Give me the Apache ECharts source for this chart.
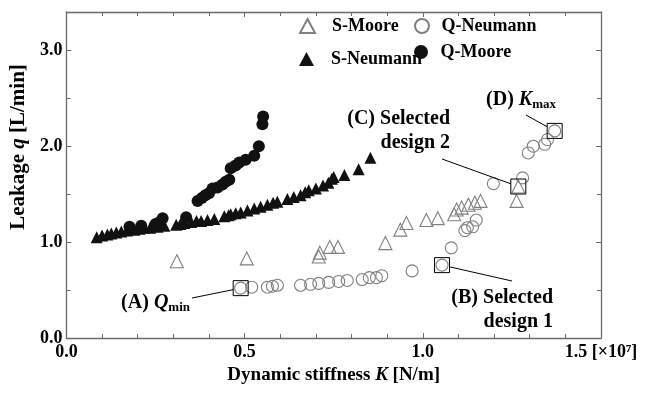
<!DOCTYPE html>
<html><head><meta charset="utf-8">
<script src="https://cdn.jsdelivr.net/npm/echarts@6/dist/echarts.min.js"></script>
<style>html,body{margin:0;padding:0;background:#fff}#c{width:655px;height:393px}</style>
</head><body><div id="c"></div>
<script>
// ---- data (K in 1e7 N/m, q in L/min) ----
const xTickLabels = ['0.0', '0.5', '1.0', '1.5 [×10⁷]'];
const yTickLabels = ['0.0', '1.0', '2.0', '3.0'];
const seriesNames = ['S-Moore', 'S-Neumann', 'Q-Neumann', 'Q-Moore'];

const sMoore = [[0.31,0.80],[0.506,0.83],[0.708,0.85],[0.711,0.89],[0.739,0.95],[0.762,0.95],[0.895,0.99],[0.937,1.13],[0.954,1.20],[1.01,1.23],[1.042,1.25],[1.088,1.29],[1.095,1.34],[1.109,1.36],[1.128,1.39],[1.146,1.41],[1.162,1.43],[1.263,1.43],[1.268,1.58]];
const sNeumann = [[0.085,1.05],[0.10,1.07],[0.115,1.08],[0.126,1.09],[0.14,1.10],[0.154,1.11],[0.17,1.12],[0.191,1.13],[0.205,1.14],[0.219,1.15],[0.235,1.15],[0.256,1.16],[0.275,1.17],[0.308,1.18],[0.32,1.19],[0.331,1.20],[0.35,1.21],[0.365,1.22],[0.378,1.22],[0.396,1.23],[0.415,1.24],[0.443,1.27],[0.455,1.28],[0.461,1.29],[0.475,1.30],[0.489,1.31],[0.508,1.33],[0.527,1.35],[0.545,1.37],[0.564,1.39],[0.58,1.41],[0.592,1.42],[0.62,1.45],[0.638,1.47],[0.657,1.49],[0.67,1.52],[0.68,1.54],[0.70,1.56],[0.72,1.59],[0.735,1.62],[0.745,1.66],[0.75,1.68],[0.78,1.70],[0.82,1.76],[0.853,1.88]];
const qNeumann = [[0.489,0.52],[0.52,0.53],[0.564,0.53],[0.578,0.54],[0.592,0.55],[0.657,0.55],[0.685,0.56],[0.708,0.57],[0.736,0.58],[0.764,0.59],[0.788,0.60],[0.83,0.61],[0.85,0.63],[0.87,0.63],[0.885,0.65],[0.97,0.70],[1.054,0.76],[1.08,0.94],[1.118,1.12],[1.125,1.15],[1.14,1.16],[1.15,1.23],[1.198,1.61],[1.28,1.67],[1.296,1.93],[1.31,2.00],[1.342,2.02],[1.35,2.07],[1.37,2.16]];
const qMoore = [[0.177,1.16],[0.21,1.17],[0.25,1.19],[0.262,1.21],[0.27,1.25],[0.336,1.26],[0.368,1.43],[0.38,1.46],[0.39,1.49],[0.40,1.51],[0.41,1.56],[0.424,1.57],[0.438,1.60],[0.447,1.63],[0.457,1.65],[0.461,1.77],[0.475,1.80],[0.485,1.83],[0.503,1.86],[0.527,1.90],[0.54,2.00],[0.55,2.23],[0.552,2.31]];

// highlighted designs (A)-(D)
const selected = [[0.489,0.52],[1.054,0.76],[1.268,1.58],[1.37,2.16]];
const selectedLabels = ['(A) {i|Q}{sub|min}', '(B) Selected\ndesign 1', '(C) Selected\ndesign 2', '(D) {i|K}{sub|max}'];

// ---- layout of annotations (pixels) ----
const annotLayout = [
  {from:[192,298], tx:190, ty:303, align:'right'},
  {from:[512,281], tx:553, ty:310, align:'right'},
  {from:[442,159], tx:450, ty:131, align:'right'},
  {from:[526,115], tx:521, ty:100, align:'center'}
];

const FONT = '"Liberation Serif", "Times New Roman", serif';
const GRAY = '#808080';
const AXIS = '#6a6a6a';

const chart = echarts.init(document.getElementById('c'), null, {renderer:'canvas'});

const baseAxis = {
  axisLine:{show:true, onZero:false, lineStyle:{color:AXIS, width:1.3}},
  axisTick:{show:true, inside:true, length:5, lineStyle:{color:AXIS, width:1}},
  minorTick:{show:true, length:4, lineStyle:{color:AXIS, width:1}},
  splitLine:{show:false},
};

const mkRich = (size, sub) => ({
  i:{fontStyle:'italic', fontWeight:'bold', fontFamily:FONT, fontSize:size, color:'#000'},
  sub:{fontWeight:'bold', fontFamily:FONT, fontSize:sub, color:'#000', padding:[Math.round(sub*0.7),0,0,0]}
});

const legendText = {fontFamily:FONT, fontWeight:'bold', fontSize:18, color:'#000'};

const option = {
  animation:false,
  backgroundColor:'#fff',
  grid:{left:65, right:54, top:12, bottom:55},
  legend: [
    {data:['S-Moore'], left:294, top:12, pad:12},
    {data:['Q-Neumann'], left:409, top:12, pad:7},
    {data:['S-Neumann'], left:294, top:45, pad:12},
    {data:['Q-Moore'], left:409, top:38, pad:7}
  ].map(l => ({
    data:l.data, left:l.left, top:l.top,
    orient:'horizontal', itemWidth:15, itemHeight:14, selectedMode:false,
    textStyle:Object.assign({padding:[0,0,0,l.pad]}, legendText)
  })),
  xAxis:[
    Object.assign({}, baseAxis, {
      type:'value', position:'bottom', min:0, max:1.5, interval:0.5,
      minorTick:Object.assign({}, baseAxis.minorTick, {splitNumber:5}),
      name:'Dynamic stiffness {i|K} [N/m]', nameLocation:'middle', nameGap:19,
      nameTextStyle:{fontFamily:FONT, fontWeight:'bold', fontSize:19, color:'#000', rich:mkRich(19,13)},
      axisLabel:{show:true, margin:5, fontFamily:FONT, fontWeight:'bold', fontSize:18, color:'#000',
        formatter:v => xTickLabels[Math.round(v/0.5)] || ''}
    }),
    Object.assign({}, baseAxis, {
      type:'value', position:'top', min:0, max:1.5, interval:0.5,
      minorTick:Object.assign({}, baseAxis.minorTick, {splitNumber:5}),
      axisLabel:{show:false}
    })
  ],
  yAxis:[
    Object.assign({}, baseAxis, {
      type:'value', position:'left', min:0, max:3.4, interval:1,
      minorTick:Object.assign({}, baseAxis.minorTick, {splitNumber:2}),
      name:'Leakage {i|q} [L/min]', nameLocation:'middle', nameGap:29, nameRotate:90,
      nameTextStyle:{fontFamily:FONT, fontWeight:'bold', fontSize:21, color:'#000', rich:mkRich(21,14), padding:[0,0,0,56]},
      axisLabel:{show:true, margin:4, fontFamily:FONT, fontWeight:'bold', fontSize:18, color:'#000',
        showMaxLabel:false,
        formatter:v => (Math.abs(v - Math.round(v)) < 1e-6 ? (yTickLabels[Math.round(v)] || '') : '')}
    }),
    Object.assign({}, baseAxis, {
      type:'value', position:'right', min:0, max:3.4, interval:1,
      minorTick:Object.assign({}, baseAxis.minorTick, {splitNumber:2}),
      axisLabel:{show:false}
    })
  ],
  series:[
    {name:seriesNames[1], type:'scatter', data:sNeumann, symbol:'triangle', symbolSize:12,
      itemStyle:{color:'#111', opacity:1}},
    {name:seriesNames[3], type:'scatter', data:qMoore, symbol:'circle', symbolSize:12,
      itemStyle:{color:'#111', opacity:1}},
    {name:seriesNames[0], type:'scatter', data:sMoore, symbol:'triangle', symbolSize:13,
      itemStyle:{color:'rgba(255,255,255,0)', borderColor:GRAY, borderWidth:1.1, opacity:1}},
    {name:seriesNames[2], type:'scatter', data:qNeumann, symbol:'circle', symbolSize:12,
      itemStyle:{color:'rgba(255,255,255,0)', borderColor:GRAY, borderWidth:1.1, opacity:1}},
    {name:'selected', type:'scatter', data:selected, symbol:'rect', symbolSize:15, silent:true, z:5,
      itemStyle:{color:'rgba(255,255,255,0)', borderColor:'#000', borderWidth:1, opacity:1}}
  ]
};
chart.setOption(option);

// annotations: leader lines from label to box edge, computed through the axes
const half = 7.5;
const graphics = [];
selected.forEach((p, k) => {
  const c = chart.convertToPixel({xAxisIndex:0, yAxisIndex:0}, p);
  const L = annotLayout[k];
  const dx = L.from[0] - c[0], dy = L.from[1] - c[1];
  const t = half / Math.max(Math.abs(dx), Math.abs(dy));
  const end = [c[0] + dx * t, c[1] + dy * t];
  graphics.push({type:'line', silent:true, z:10,
    shape:{x1:L.from[0], y1:L.from[1], x2:end[0], y2:end[1]},
    style:{stroke:'#000', lineWidth:1}});
  graphics.push({type:'text', silent:true, z:10, x:L.tx, y:L.ty,
    style:{text:selectedLabels[k], align:L.align, verticalAlign:'middle',
      fontFamily:FONT, fontWeight:'bold', fontSize:20, fill:'#000', lineHeight:24, rich:mkRich(20,13)}});
});
chart.setOption({graphic:graphics});
</script>
</body></html>
